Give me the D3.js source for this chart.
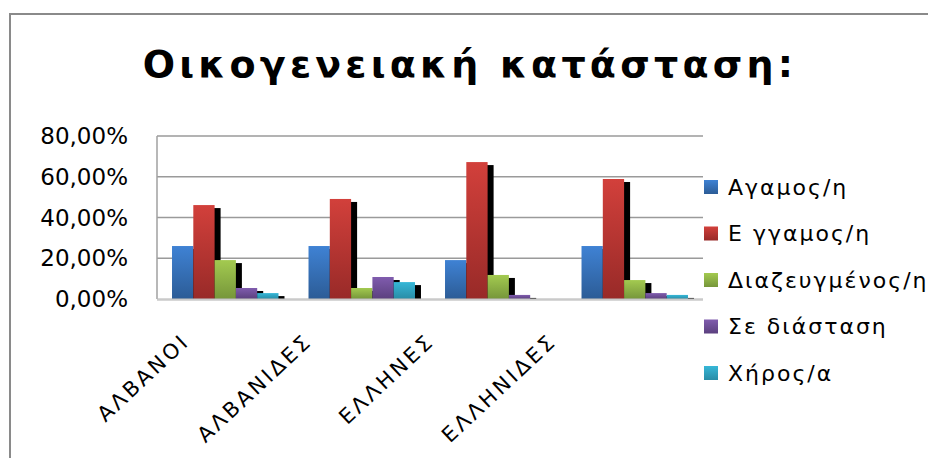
<!DOCTYPE html>
<html><head><meta charset="utf-8">
<script src="https://cdn.jsdelivr.net/npm/d3@7"></script>
<style>body{margin:0;background:#fff}svg{display:block}</style>
</head><body>
<script>
const categories = ["ΑΛΒΑΝΟΙ", "ΑΛΒΑΝΙΔΕΣ", "ΕΛΛΗΝΕΣ", "ΕΛΛΗΝΙΔΕΣ"];
const seriesNames = ["Αγαμος/η", "Ε γγαμος/η", "Διαζευγμένος/η", "Σε διάσταση", "Χήρος/α"];
const agamos      = [0.26, 0.26, 0.191, 0.26];
const eggamos     = [0.461, 0.491, 0.672, 0.589];
const diazeugmenos= [0.191, 0.054, 0.118, 0.093];
const diastasi    = [0.054, 0.108, 0.02, 0.029];
const chiros      = [0.029, 0.083, 0.0, 0.02];
const seriesValues = [agamos, eggamos, diazeugmenos, diastasi, chiros];
const yTicks = [0, 0.2, 0.4, 0.6, 0.8];
const chartTitle = "Οικογενειακή κατάσταση:";

const colors = [["#3f82d4","#2c5c96"],["#d2403b","#982a28"],["#a3ca50","#76963a"],["#805cae","#5b407e"],["#36b7d7","#288ca6"]];

const W = 928, H = 458;
const svg = d3.select("body").append("svg").attr("width", W).attr("height", H);
const defs = svg.append("defs");
colors.forEach((c,i)=>{
  const g = defs.append("linearGradient").attr("id","g"+i).attr("x1",0).attr("y1",0).attr("x2",0).attr("y2",1);
  g.append("stop").attr("offset","0%").attr("stop-color",c[0]);
  g.append("stop").attr("offset","100%").attr("stop-color",c[1]);
});

// outer frame
svg.append("path").attr("d","M10,460 V14 H930").attr("fill","none").attr("stroke","#8a8a8a").attr("stroke-width",2);

const pL = 157, pR = 703, pT = 136, pB = 299;
const y = d3.scaleLinear().domain([0, 0.8]).range([pB, pT]);
const x0 = d3.scaleBand().domain(categories).range([pL, pR]).paddingInner(0.22).paddingOuter(0.11);
const x1 = d3.scaleBand().domain(d3.range(seriesNames.length)).range([0, x0.bandwidth()]);

// gridlines
svg.append("g").selectAll("line").data(yTicks.filter(t=>t>0)).join("line")
  .attr("x1", pL).attr("x2", pR).attr("y1", d=>y(d)).attr("y2", d=>y(d))
  .attr("stroke", "#9a9a9a").attr("stroke-width", 1.5);
// left axis line
svg.append("line").attr("x1", pL).attr("x2", pL).attr("y1", y(0.8)).attr("y2", y(0))
  .attr("stroke", "#a0a0a0").attr("stroke-width", 1.5);

// y labels
const fmt = d => (d*100).toFixed(2).replace(".", ",") + "%";
svg.append("g").selectAll("text").data(yTicks).join("text")
  .attr("x", 128).attr("y", d=>y(d)).attr("dy","0.35em").attr("text-anchor","end")
  .attr("font-family","DejaVu Sans").attr("font-size",23).attr("fill","#000")
  .text(fmt);

const data = [];
categories.forEach((c,ci)=>seriesValues.forEach((s,si)=>data.push({c, si, v:s[ci]})));

// shadows
svg.append("g").selectAll("rect").data(data.filter(d=>d.v>0)).join("rect")
  .attr("x", d=>x0(d.c)+x1(d.si)+6).attr("y", d=>y(d.v)+3)
  .attr("width", x1.bandwidth()).attr("height", d=>Math.max(0, y(0)-y(d.v)-3))
  .attr("fill","#000");
// bars
svg.append("g").selectAll("rect").data(data.filter(d=>d.v>0)).join("rect")
  .attr("x", d=>x0(d.c)+x1(d.si)).attr("y", d=>y(d.v))
  .attr("width", x1.bandwidth()).attr("height", d=>y(0)-y(d.v))
  .attr("fill", d=>"url(#g"+d.si+")");

// bottom axis
svg.append("line").attr("x1", pL).attr("x2", pR).attr("y1", y(0)+0.5).attr("y2", y(0)+0.5)
  .attr("stroke","#b8b8b8").attr("stroke-width",2.5).attr("stroke-opacity",0.75);

// x labels
const xl = d3.scalePoint().domain(categories).range([pL+34, pL+401]);
svg.append("g").selectAll("text").data(categories).join("text")
  .attr("transform", d=>`translate(${xl(d)},343) rotate(-43)`)
  .attr("text-anchor","end").attr("font-family","DejaVu Sans").attr("font-size",21)
  .attr("letter-spacing", 3).attr("fill","#000").text(d=>d);

// legend
const lg = svg.append("g");
const ly = d3.scalePoint().domain(d3.range(seriesNames.length)).range([187, 373]);
lg.selectAll("rect").data(seriesNames).join("rect")
  .attr("x", 704).attr("y", (d,i)=>ly(i)-7).attr("width",14).attr("height",14)
  .attr("fill", (d,i)=>"url(#g"+i+")");
lg.selectAll("text").data(seriesNames).join("text")
  .attr("x", 728).attr("y",(d,i)=>ly(i)).attr("dy","0.36em")
  .attr("font-family","DejaVu Sans").attr("font-size",22).attr("letter-spacing",2)
  .attr("fill","#000").text(d=>d);

// title
svg.append("text").attr("x", 470).attr("y", 77).attr("text-anchor","middle")
  .attr("font-family","DejaVu Sans").attr("font-weight","bold").attr("font-size",38)
  .attr("letter-spacing",4.2).attr("fill","#000").text(chartTitle);
</script>
</body></html>
